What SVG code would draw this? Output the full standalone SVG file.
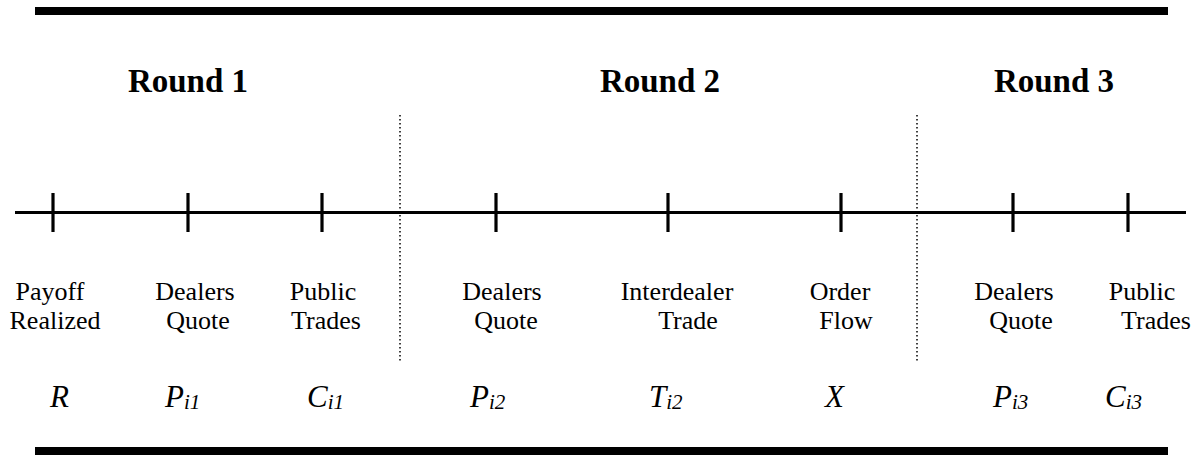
<svg xmlns="http://www.w3.org/2000/svg" width="1204" height="455" viewBox="0 0 1204 455">
<style>
.bar{fill:#000}
.axis{stroke:#000;stroke-width:3;fill:none}
.tick{stroke:#000;stroke-width:3.2}
.sep{stroke:#000;stroke-width:1.5;stroke-dasharray:1.5 2.5;fill:none}
.round{font-family:"Liberation Serif",serif;font-weight:bold;font-size:33px;text-anchor:middle;fill:#000}
.lab{font-family:"Liberation Serif",serif;font-size:26px;text-anchor:middle;fill:#000}
.sym{font-family:"Liberation Serif",serif;font-style:italic;font-size:31px;fill:#000}
.sub{font-size:21px}
</style>
<rect class="bar" x="35" y="7" width="1133" height="8"/>
<rect class="bar" x="35" y="447" width="1133" height="8"/>
<g id="rounds">
<text class="round" x="188" y="92">Round 1</text>
<text class="round" x="660" y="92">Round 2</text>
<text class="round" x="1054" y="92">Round 3</text>
</g>
<g id="connectors">
<line class="axis" x1="15" y1="212.5" x2="1186" y2="212.5"/>
<line class="sep" x1="400" y1="115" x2="400" y2="363"/>
<line class="sep" x1="917" y1="115" x2="917" y2="363"/>
</g>
<g id="payoff">
<line class="tick" x1="53" y1="193" x2="53" y2="232"/>
<text class="lab" x="50" y="300">Payoff</text>
<text class="lab" x="55" y="329">Realized</text>
<text class="sym" x="50" y="407">R</text>
</g>
<g id="quote1">
<line class="tick" x1="188" y1="193" x2="188" y2="232"/>
<text class="lab" x="195" y="300">Dealers</text>
<text class="lab" x="198" y="329">Quote</text>
<text class="sym" x="165" y="407">P<tspan class="sub" dy="2">i1</tspan></text>
</g>
<g id="trades1">
<line class="tick" x1="322" y1="193" x2="322" y2="232"/>
<text class="lab" x="323" y="300">Public</text>
<text class="lab" x="326" y="329">Trades</text>
<text class="sym" x="307" y="407">C<tspan class="sub" dy="2">i1</tspan></text>
</g>
<g id="quote2">
<line class="tick" x1="496" y1="193" x2="496" y2="232"/>
<text class="lab" x="502" y="300">Dealers</text>
<text class="lab" x="506" y="329">Quote</text>
<text class="sym" x="470" y="407">P<tspan class="sub" dy="2">i2</tspan></text>
</g>
<g id="interdealer">
<line class="tick" x1="668" y1="193" x2="668" y2="232"/>
<text class="lab" x="677" y="300">Interdealer</text>
<text class="lab" x="688" y="329">Trade</text>
<text class="sym" x="649" y="407">T<tspan class="sub" dy="2">i2</tspan></text>
</g>
<g id="orderflow">
<line class="tick" x1="841" y1="193" x2="841" y2="232"/>
<text class="lab" x="840" y="300">Order</text>
<text class="lab" x="846" y="329">Flow</text>
<text class="sym" x="825" y="407">X</text>
</g>
<g id="quote3">
<line class="tick" x1="1013" y1="193" x2="1013" y2="232"/>
<text class="lab" x="1014" y="300">Dealers</text>
<text class="lab" x="1021" y="329">Quote</text>
<text class="sym" x="993" y="407">P<tspan class="sub" dy="2">i3</tspan></text>
</g>
<g id="trades3">
<line class="tick" x1="1128" y1="193" x2="1128" y2="232"/>
<text class="lab" x="1142" y="300">Public</text>
<text class="lab" x="1156" y="329">Trades</text>
<text class="sym" x="1105" y="407">C<tspan class="sub" dy="2">i3</tspan></text>
</g>
</svg>
